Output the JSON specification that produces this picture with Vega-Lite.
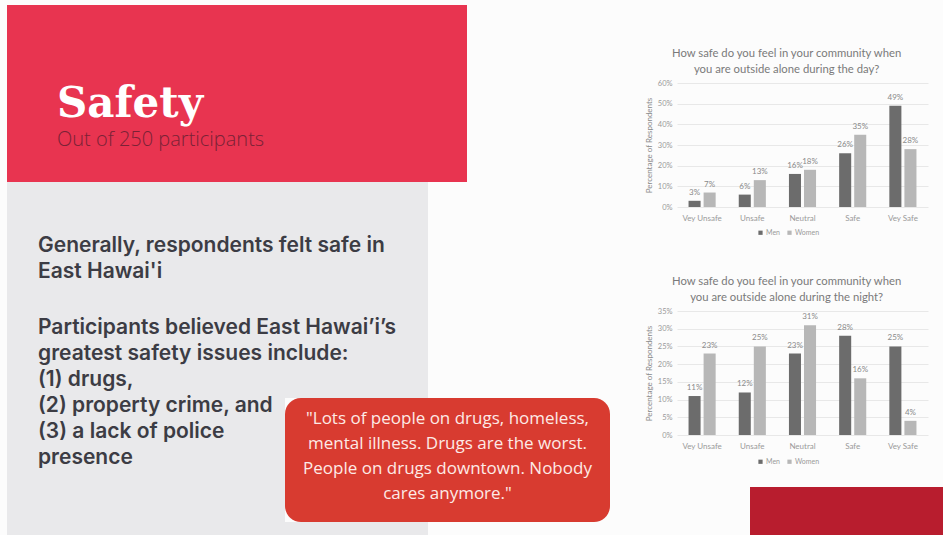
{
  "$schema": "https://vega.github.io/schema/vega-lite/v6.json",
  "padding": {"left": 7, "top": 5, "right": 0, "bottom": 0},
  "background": "#fcfcfc",
  "datasets": {
    "day": [
      {"level": "Vey Unsafe", "gender": "Men", "pct": 0.03},
      {"level": "Vey Unsafe", "gender": "Women", "pct": 0.07},
      {"level": "Unsafe", "gender": "Men", "pct": 0.06},
      {"level": "Unsafe", "gender": "Women", "pct": 0.13},
      {"level": "Neutral", "gender": "Men", "pct": 0.16},
      {"level": "Neutral", "gender": "Women", "pct": 0.18},
      {"level": "Safe", "gender": "Men", "pct": 0.26},
      {"level": "Safe", "gender": "Women", "pct": 0.35},
      {"level": "Vey Safe", "gender": "Men", "pct": 0.49},
      {"level": "Vey Safe", "gender": "Women", "pct": 0.28}
    ],
    "night": [
      {"level": "Vey Unsafe", "gender": "Men", "pct": 0.11},
      {"level": "Vey Unsafe", "gender": "Women", "pct": 0.23},
      {"level": "Unsafe", "gender": "Men", "pct": 0.12},
      {"level": "Unsafe", "gender": "Women", "pct": 0.25},
      {"level": "Neutral", "gender": "Men", "pct": 0.23},
      {"level": "Neutral", "gender": "Women", "pct": 0.31},
      {"level": "Safe", "gender": "Men", "pct": 0.28},
      {"level": "Safe", "gender": "Women", "pct": 0.16},
      {"level": "Vey Safe", "gender": "Men", "pct": 0.25},
      {"level": "Vey Safe", "gender": "Women", "pct": 0.04}
    ]
  },
  "spacing": 35,
  "resolve": {"scale": {"color": "independent"}, "legend": {"color": "independent"}},
  "hconcat": [
    {
      "spacing": 0,
      "vconcat": [
        {
          "width": 460, "height": 177,
          "view": {"fill": "#e83450", "stroke": null},
          "data": {"values": []},
          "mark": "point",
          "encoding": {},
          "title": {
            "text": "Safety",
            "subtitle": "Out of 250 participants",
            "orient": "top", "anchor": "start", "frame": "group",
            "offset": -146, "dx": 50,
            "font": "DejaVu Serif", "fontSize": 42, "fontWeight": "bold", "color": "#ffffff",
            "subtitleFont": "Open Sans", "subtitleFontSize": 20, "subtitleFontWeight": 300,
            "subtitleColor": "#7a2236", "subtitlePadding": 4
          }
        },
        {
          "width": 421, "height": 210,
          "view": {"fill": "#e9e9eb", "stroke": null},
          "data": {"values": []},
          "mark": "point",
          "encoding": {},
          "title": {
            "text": ["Generally, respondents felt safe in", "East Hawai'i"],
            "subtitle": ["Participants believed East Hawai’i’s", "greatest safety issues include:", "(1) drugs,"],
            "orient": "top", "anchor": "start", "frame": "group",
            "offset": -208, "dx": 31,
            "font": "Inter", "fontSize": 21, "fontWeight": 600, "color": "#3c3c44", "lineHeight": 26,
            "subtitleFont": "Inter", "subtitleFontSize": 21, "subtitleFontWeight": 600,
            "subtitleColor": "#3c3c44", "subtitleLineHeight": 26, "subtitlePadding": 35
          }
        },
        {
          "spacing": 0,
          "hconcat": [
            {
              "width": 278, "height": 143,
              "view": {"fill": "#e9e9eb", "stroke": null},
              "data": {"values": []},
              "mark": "point",
              "encoding": {},
              "title": {
                "text": ["(2) property crime, and", "(3) a lack of police", "presence"],
                "orient": "top", "anchor": "start", "frame": "group",
                "offset": -76, "dx": 31,
                "font": "Inter", "fontSize": 21, "fontWeight": 600, "color": "#3c3c44", "lineHeight": 26
              }
            },
            {
              "spacing": 0,
              "vconcat": [
                {"width": 143, "height": 6, "view": {"fill": "#e9e9eb", "stroke": null}, "data": {"values": []}, "mark": "point", "encoding": {}},
                {
                  "width": 325, "height": 124,
                  "view": {"fill": "#d83b30", "stroke": null, "cornerRadius": 16},
                  "data": {"values": []},
                  "mark": "point",
                  "encoding": {},
                  "title": {
                    "text": ["\"Lots of people on drugs, homeless,", "mental illness. Drugs are the worst.", "People on drugs downtown. Nobody", "cares anymore.\""],
                    "orient": "top", "anchor": "middle", "frame": "group",
                    "offset": -104.5,
                    "font": "Open Sans", "fontSize": 17, "fontWeight": "normal", "color": "#fdeae6", "lineHeight": 25
                  }
                },
                {"width": 143, "height": 13, "view": {"fill": "#e9e9eb", "stroke": null}, "data": {"values": []}, "mark": "point", "encoding": {}}
              ]
            }
          ]
        }
      ]
    },
    {
      "spacing": 39,
      "resolve": {"scale": {"color": "independent"}, "legend": {"color": "independent"}},
      "vconcat": [
        {
          "spacing": 37,
          "resolve": {"scale": {"color": "independent"}, "legend": {"color": "independent"}},
          "vconcat": [
            {
              "width": 10, "height": 5,
              "data": {"values": []},
              "mark": "point",
              "encoding": {}
            },
            {
              "width": 251, "height": 124,
              "data": {"name": "day"},
              "title": {
                "text": ["How safe do you feel in your community when", "you are outside alone during the day?"],
                "offset": 4, "anchor": "middle", "frame": "bounds",
                "font": "Lato", "fontSize": 11.3, "fontWeight": "normal", "color": "#7a7a7a", "lineHeight": 16
              },
              "encoding": {
                "x": {"field": "level", "type": "nominal", "sort": ["Vey Unsafe", "Unsafe", "Neutral", "Safe", "Vey Safe"],
                  "scale": {"paddingInner": 0.46, "paddingOuter": 0.23},
                  "axis": {"title": null, "labelAngle": 0, "labelFontSize": 8, "labelPadding": 7, "labelColor": "#9a9a9a"}},
                "xOffset": {"field": "gender", "type": "nominal", "sort": ["Men", "Women"], "scale": {"paddingInner": 0.2}},
                "y": {"field": "pct", "type": "quantitative", "scale": {"domain": [0, 0.6]},
                  "axis": {"values": [0, 0.1, 0.2, 0.3, 0.4, 0.5, 0.6], "format": ".0%", "title": "Percentage of Respondents",
                    "titleFontSize": 8, "titleFontWeight": "normal", "titlePadding": 4, "labelFontSize": 7.5, "labelPadding": 5}},
                "color": {"field": "gender", "type": "nominal",
                  "scale": {"domain": ["Men", "Women"], "range": ["#6c6c6c", "#b7b7b7"]},
                  "legend": {"orient": "none", "legendX": 80, "legendY": 146, "direction": "horizontal", "title": null,
                    "symbolType": "square", "symbolSize": 18, "labelFontSize": 7, "labelColor": "#9a9a9a", "columnPadding": 6, "labelOffset": 2}}
              },
              "layer": [
                {"mark": {"type": "bar"}},
                {"mark": {"type": "text", "baseline": "bottom", "dy": -4, "fontSize": 8},
                  "encoding": {"text": {"field": "pct", "type": "quantitative", "format": ".0%"}, "color": {"value": "#8a8a8a"}}}
              ]
            }
          ]
        },
        {
          "spacing": 22,
          "resolve": {"scale": {"color": "independent"}, "legend": {"color": "independent"}},
          "vconcat": [
            {
              "width": 251, "height": 124,
              "data": {"name": "night"},
              "title": {
                "text": ["How safe do you feel in your community when", "you are outside alone during the night?"],
                "offset": 4, "anchor": "middle", "frame": "bounds",
                "font": "Lato", "fontSize": 11.3, "fontWeight": "normal", "color": "#7a7a7a", "lineHeight": 16
              },
              "encoding": {
                "x": {"field": "level", "type": "nominal", "sort": ["Vey Unsafe", "Unsafe", "Neutral", "Safe", "Vey Safe"],
                  "scale": {"paddingInner": 0.46, "paddingOuter": 0.23},
                  "axis": {"title": null, "labelAngle": 0, "labelFontSize": 8, "labelPadding": 7, "labelColor": "#9a9a9a"}},
                "xOffset": {"field": "gender", "type": "nominal", "sort": ["Men", "Women"], "scale": {"paddingInner": 0.2}},
                "y": {"field": "pct", "type": "quantitative", "scale": {"domain": [0, 0.35]},
                  "axis": {"values": [0, 0.05, 0.1, 0.15, 0.2, 0.25, 0.3, 0.35], "format": ".0%", "title": "Percentage of Respondents",
                    "titleFontSize": 8, "titleFontWeight": "normal", "titlePadding": 4, "labelFontSize": 7.5, "labelPadding": 5}},
                "color": {"field": "gender", "type": "nominal",
                  "scale": {"domain": ["Men", "Women"], "range": ["#6c6c6c", "#b7b7b7"]},
                  "legend": {"orient": "none", "legendX": 80, "legendY": 147, "direction": "horizontal", "title": null,
                    "symbolType": "square", "symbolSize": 18, "labelFontSize": 7, "labelColor": "#9a9a9a", "columnPadding": 6, "labelOffset": 2}}
              },
              "layer": [
                {"mark": {"type": "bar"}},
                {"mark": {"type": "text", "baseline": "bottom", "dy": -4, "fontSize": 8},
                  "encoding": {"text": {"field": "pct", "type": "quantitative", "format": ".0%"}, "color": {"value": "#8a8a8a"}}}
              ]
            },
            {
              "spacing": 0,
              "hconcat": [
                {"width": 73, "height": 48, "data": {"values": []}, "mark": "point", "encoding": {}},
                {"width": 200, "height": 48, "view": {"fill": "#b81d2e", "stroke": null}, "data": {"values": []}, "mark": "point", "encoding": {}}
              ]
            }
          ]
        }
      ]
    }
  ],
  "config": {
    "view": {"stroke": null},
    "font": "Lato",
    "axis": {"labelFont": "Lato", "titleFont": "Lato", "gridColor": "#e8e8e8", "domain": false, "ticks": false, "labelColor": "#9a9a9a", "titleColor": "#8a8a8a"},
    "legend": {"labelFont": "Lato"}
  }
}
